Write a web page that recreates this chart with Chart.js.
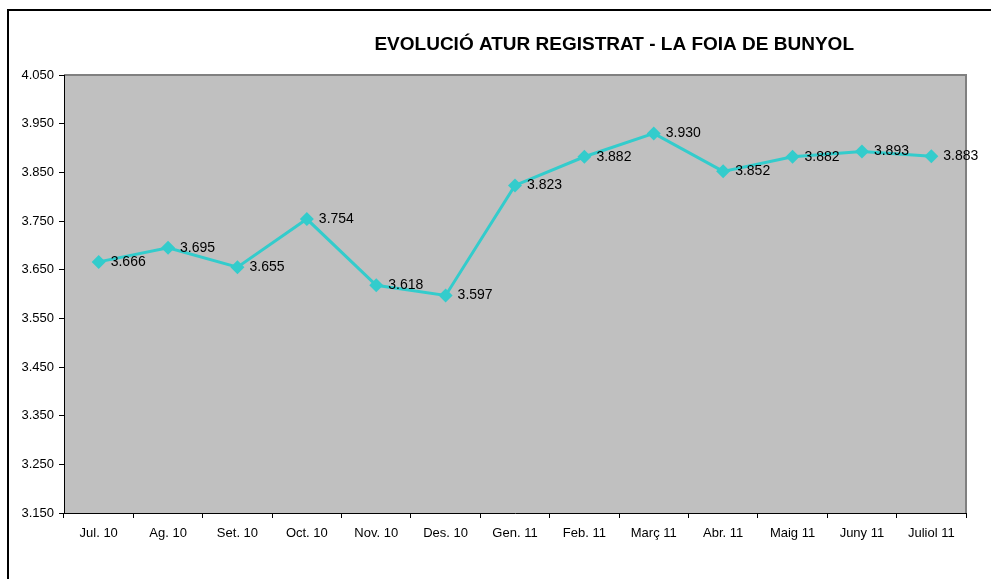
<!DOCTYPE html>
<html>
<head>
<meta charset="utf-8">
<script src="https://cdn.jsdelivr.net/npm/chart.js@4"></script>
<style>
  html, body { margin: 0; padding: 0; background: #fff; }
  #wrap { width: 991px; height: 579px; }
</style>
</head>
<body>
<div id="wrap"><canvas id="aturChart" width="991" height="579"></canvas></div>
<script>
// --- Dades ---
const mesos = ['Jul. 10', 'Ag. 10', 'Set. 10', 'Oct. 10', 'Nov. 10', 'Des. 10', 'Gen. 11',
  'Feb. 11', 'Març 11', 'Abr. 11', 'Maig 11', 'Juny 11', 'Juliol 11'];
const aturats = [3666, 3695, 3655, 3754, 3618, 3597, 3823, 3882, 3930, 3852, 3882, 3893, 3883];
const Y_MIN = 3150;
const Y_MAX = 4050;
const Y_STEP = 100;
const TITOL = 'EVOLUCIÓ ATUR REGISTRAT - LA FOIA DE BUNYOL';

// format amb punt de milers: 3666 -> 3.666
function fmt(v) {
  return String(Math.round(v)).replace(/\B(?=(\d{3})+(?!\d))/g, '.');
}

const FONT = "'Liberation Sans', Arial, sans-serif";

// --- Fons gris, marc i títol ---
const fonsPlugin = {
  id: 'fons',
  beforeDraw(chart) {
    const { ctx, chartArea: a } = chart;
    ctx.save();
    // marc exterior (només es veu a l'esquerra i dalt)
    ctx.strokeStyle = '#000';
    ctx.lineWidth = 2;
    ctx.strokeRect(8, 10, 2000, 2000);
    // àrea de dibuix
    ctx.fillStyle = '#C0C0C0';
    ctx.fillRect(a.left, a.top, a.right - a.left, a.bottom - a.top);
    ctx.strokeStyle = '#808080';
    ctx.lineWidth = 2;
    ctx.beginPath();
    ctx.moveTo(a.left, a.top);
    ctx.lineTo(a.right, a.top);
    ctx.lineTo(a.right, a.bottom);
    ctx.stroke();
    // títol
    ctx.fillStyle = '#000';
    ctx.font = 'bold 19px ' + FONT;
    ctx.textAlign = 'center';
    ctx.textBaseline = 'middle';
    ctx.fillText(TITOL, a.left + (a.right - a.left) * 0.61, 45);
    ctx.restore();
  }
};

// --- Etiquetes de valor ---
const etiquetesPlugin = {
  id: 'etiquetes',
  afterDatasetsDraw(chart) {
    const { ctx } = chart;
    const meta = chart.getDatasetMeta(0);
    ctx.save();
    ctx.fillStyle = '#000';
    ctx.font = '14px ' + FONT;
    ctx.textAlign = 'left';
    ctx.textBaseline = 'middle';
    meta.data.forEach((pt, i) => {
      ctx.fillText(fmt(aturats[i]), pt.x + 12, pt.y);
    });
    ctx.restore();
  }
};

const ctx = document.getElementById('aturChart').getContext('2d');

new Chart(ctx, {
  type: 'line',
  data: {
    labels: mesos,
    datasets: [{
      data: aturats,
      borderColor: '#33CCCC',
      backgroundColor: '#33CCCC',
      borderWidth: 3,
      pointStyle: 'rectRot',
      pointRadius: 7,
      pointBorderWidth: 0,
      tension: 0,
      fill: false
    }]
  },
  options: {
    responsive: false,
    animation: false,
    devicePixelRatio: 1,
    layout: { padding: { left: 0, right: 25, top: 75, bottom: 0 } },
    plugins: {
      legend: { display: false },
      title: { display: false },
      tooltip: { enabled: false }
    },
    scales: {
      x: {
        type: 'category',
        offset: true,
        grid: {
          offset: true,
          drawOnChartArea: false,
          drawTicks: true,
          tickLength: 5,
          color: '#000'
        },
        border: { color: '#000', width: 1 },
        ticks: {
          color: '#000',
          font: { family: FONT, size: 13 },
          padding: 8,
          maxRotation: 0,
          autoSkip: false
        },
        afterFit(scale) { scale.height = 66; }
      },
      y: {
        min: Y_MIN,
        max: Y_MAX,
        grid: {
          drawOnChartArea: false,
          drawTicks: true,
          tickLength: 5,
          color: '#000'
        },
        border: { color: '#000', width: 1 },
        ticks: {
          stepSize: Y_STEP,
          color: '#000',
          font: { family: FONT, size: 13 },
          padding: 5,
          callback: (v) => fmt(v)
        },
        afterFit(scale) { scale.width = 64; }
      }
    }
  },
  plugins: [fonsPlugin, etiquetesPlugin]
});
</script>
</body>
</html>
